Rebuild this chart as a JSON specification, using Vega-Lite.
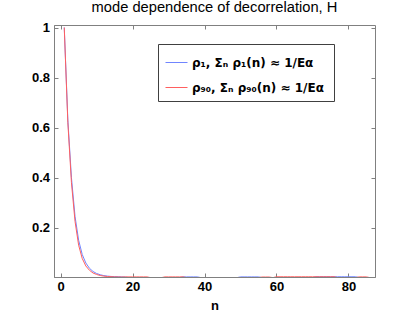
{
  "$schema": "https://vega.github.io/schema/vega-lite/v6.json",
  "width": 321,
  "height": 252,
  "autosize": {"type": "none"},
  "padding": {"left": 54, "top": 25, "right": 40, "bottom": 35},
  "background": "white",
  "title": {"text": "mode dependence of decorrelation, H", "font": "Liberation Sans", "fontSize": 14.7, "fontWeight": "normal", "color": "#000000", "offset": 7, "anchor": "middle"},
  "config": {
    "view": {"stroke": "#808080", "strokeWidth": 1},
    "axis": {"grid": false, "domainColor": "#808080", "tickColor": "#808080", "tickSize": -4, "labelFont": "Liberation Sans", "labelFontWeight": "bold", "labelFontSize": 13, "labelColor": "#000000", "titleFont": "Liberation Sans", "titleFontWeight": "bold", "titleFontSize": 13, "titleColor": "#000000"}
  },
  "data": {"values": [
    {"n": 1, "r1": 1.0, "r90": 1.0},
    {"n": 2, "r1": 0.63, "r90": 0.62},
    {"n": 3, "r1": 0.40, "r90": 0.38},
    {"n": 4, "r1": 0.245, "r90": 0.225},
    {"n": 5, "r1": 0.15, "r90": 0.13},
    {"n": 6, "r1": 0.093, "r90": 0.077},
    {"n": 7, "r1": 0.059, "r90": 0.047},
    {"n": 8, "r1": 0.038, "r90": 0.03},
    {"n": 9, "r1": 0.025, "r90": 0.019},
    {"n": 10, "r1": 0.017, "r90": 0.013},
    {"n": 11, "r1": 0.012, "r90": 0.009},
    {"n": 12, "r1": 0.0085, "r90": 0.0065},
    {"n": 13, "r1": 0.0065, "r90": 0.005},
    {"n": 14, "r1": 0.0052, "r90": 0.0042},
    {"n": 15, "r1": 0.0045, "r90": 0.0036},
    {"n": 16, "r1": 0.004, "r90": 0.0032},
    {"n": 17, "r1": 0.0033, "r90": 0.003},
    {"n": 18, "r1": 0.0026, "r90": 0.0035},
    {"n": 19, "r1": 0.0005, "r90": 0.0035},
    {"n": 20, "r1": 0.0005, "r90": 0.0035},
    {"n": 21, "r1": 0.0005, "r90": 0.0035},
    {"n": 22, "r1": 0.0005, "r90": 0.0035},
    {"n": 23, "r1": 0.0005, "r90": 0.0035},
    {"n": 24, "r1": 0.0005, "r90": 0.0035},
    {"n": 25, "r1": 0.0005, "r90": 0.0005},
    {"n": 26, "r1": 0.0005, "r90": 0.0005},
    {"n": 27, "r1": 0.0005, "r90": 0.0005},
    {"n": 28, "r1": 0.0005, "r90": 0.0005},
    {"n": 29, "r1": 0.0005, "r90": 0.0035},
    {"n": 30, "r1": 0.0005, "r90": 0.0035},
    {"n": 31, "r1": 0.0005, "r90": 0.0035},
    {"n": 32, "r1": 0.0005, "r90": 0.0035},
    {"n": 33, "r1": 0.0005, "r90": 0.0035},
    {"n": 34, "r1": 0.0035, "r90": 0.0035},
    {"n": 35, "r1": 0.0035, "r90": 0.0005},
    {"n": 36, "r1": 0.0035, "r90": 0.0005},
    {"n": 37, "r1": 0.0035, "r90": 0.0005},
    {"n": 38, "r1": 0.0035, "r90": 0.0005},
    {"n": 39, "r1": 0.0005, "r90": 0.0005},
    {"n": 40, "r1": 0.0005, "r90": 0.0005},
    {"n": 41, "r1": 0.0005, "r90": 0.0005},
    {"n": 42, "r1": 0.0005, "r90": 0.0005},
    {"n": 43, "r1": 0.0005, "r90": 0.0005},
    {"n": 44, "r1": 0.0005, "r90": 0.0005},
    {"n": 45, "r1": 0.0005, "r90": 0.0005},
    {"n": 46, "r1": 0.0005, "r90": 0.0005},
    {"n": 47, "r1": 0.0005, "r90": 0.0005},
    {"n": 48, "r1": 0.0005, "r90": 0.0005},
    {"n": 49, "r1": 0.0005, "r90": 0.0005},
    {"n": 50, "r1": 0.0035, "r90": 0.0005},
    {"n": 51, "r1": 0.0035, "r90": 0.0005},
    {"n": 52, "r1": 0.0035, "r90": 0.0005},
    {"n": 53, "r1": 0.0035, "r90": 0.0005},
    {"n": 54, "r1": 0.0035, "r90": 0.0005},
    {"n": 55, "r1": 0.0035, "r90": 0.0005},
    {"n": 56, "r1": 0.0005, "r90": 0.003},
    {"n": 57, "r1": 0.0005, "r90": 0.003},
    {"n": 58, "r1": 0.0005, "r90": 0.003},
    {"n": 59, "r1": 0.0005, "r90": 0.0005},
    {"n": 60, "r1": 0.0005, "r90": 0.004},
    {"n": 61, "r1": 0.0005, "r90": 0.004},
    {"n": 62, "r1": 0.0005, "r90": 0.004},
    {"n": 63, "r1": 0.0005, "r90": 0.004},
    {"n": 64, "r1": 0.0005, "r90": 0.004},
    {"n": 65, "r1": 0.0005, "r90": 0.004},
    {"n": 66, "r1": 0.0005, "r90": 0.004},
    {"n": 67, "r1": 0.0005, "r90": 0.004},
    {"n": 68, "r1": 0.0005, "r90": 0.004},
    {"n": 69, "r1": 0.0005, "r90": 0.004},
    {"n": 70, "r1": 0.0005, "r90": 0.004},
    {"n": 71, "r1": 0.004, "r90": 0.004},
    {"n": 72, "r1": 0.004, "r90": 0.004},
    {"n": 73, "r1": 0.004, "r90": 0.004},
    {"n": 74, "r1": 0.004, "r90": 0.004},
    {"n": 75, "r1": 0.004, "r90": 0.004},
    {"n": 76, "r1": 0.004, "r90": 0.004},
    {"n": 77, "r1": 0.004, "r90": 0.0005},
    {"n": 78, "r1": 0.004, "r90": 0.0005},
    {"n": 79, "r1": 0.004, "r90": 0.0005},
    {"n": 80, "r1": 0.004, "r90": 0.0005},
    {"n": 81, "r1": 0.004, "r90": 0.0005},
    {"n": 82, "r1": 0.004, "r90": 0.0005},
    {"n": 83, "r1": 0.0005, "r90": 0.0035},
    {"n": 84, "r1": 0.0005, "r90": 0.0035},
    {"n": 85, "r1": 0.0005, "r90": 0.0035},
    {"n": 86, "r1": 0.0005, "r90": 0.0005}
  ]},
  "transform": [{"fold": ["r1", "r90"], "as": ["series", "rho"]}],
  "layer": [
    {
      "mark": {"type": "line", "strokeWidth": 1, "clip": true},
      "encoding": {
        "x": {"field": "n", "type": "quantitative", "scale": {"domain": [-1.85, 87.4], "nice": false, "zero": false}, "axis": {"values": [0, 20, 40, 60, 80], "title": "n", "labelPadding": 7, "titlePadding": 6}},
        "y": {"field": "rho", "type": "quantitative", "scale": {"domain": [0.003, 1.01], "nice": false, "zero": false}, "axis": {"values": [0.2, 0.4, 0.6, 0.8, 1], "title": null, "labelPadding": 8.5, "labelExpr": "datum.value == 1 ? '1' : format(datum.value, '.1f')"}},
        "color": {"field": "series", "type": "nominal", "scale": {"domain": ["r1", "r90"], "range": ["#7085ff", "#ff5f5f"]},
          "legend": {"orient": "none", "legendX": 104, "legendY": 19, "title": "\u00a0", "titleOrient": "right", "titlePadding": 3, "titleFontSize": 12, "symbolType": "stroke", "symbolSize": 484, "symbolStrokeWidth": 1, "labelFont": "DejaVu Sans", "labelFontWeight": "bold", "labelFontSize": 12, "labelColor": "#000000", "labelLimit": 200, "fillColor": "white", "strokeColor": "#404040", "padding": 7, "rowPadding": 7, "labelOffset": 4,
            "labelExpr": "datum.value == 'r1' ? 'ρ₁, Σₙ ρ₁(n) ≈ 1/Eα' : 'ρ₉₀, Σₙ ρ₉₀(n) ≈ 1/Eα'"}}
      }
    },
    {
      "mark": {"type": "line", "opacity": 0},
      "encoding": {
        "x": {"field": "n", "type": "quantitative", "axis": {"orient": "top", "values": [0, 20, 40, 60, 80], "labels": false, "title": null, "domain": false}},
        "y": {"field": "rho", "type": "quantitative", "axis": {"orient": "right", "values": [0.2, 0.4, 0.6, 0.8, 1], "labels": false, "title": null, "domain": false}}
      }
    }
  ],
  "resolve": {"axis": {"x": "independent", "y": "independent"}}
}
